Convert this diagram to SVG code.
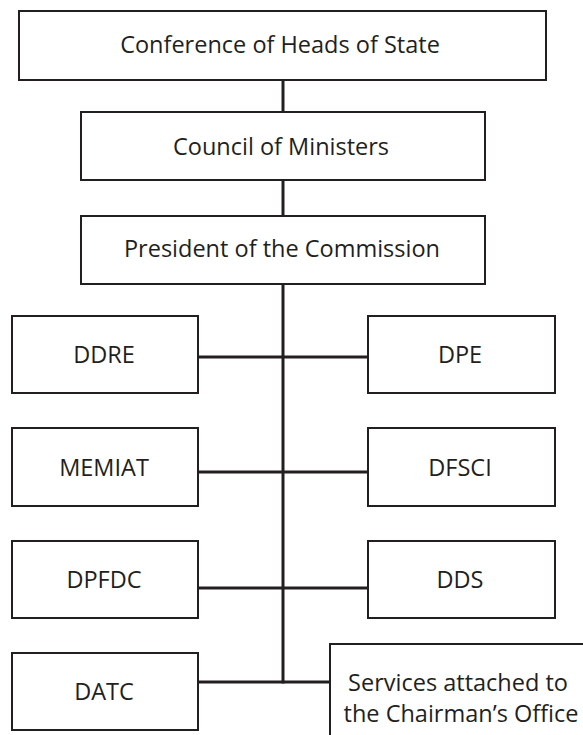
<svg xmlns="http://www.w3.org/2000/svg" width="583" height="735" viewBox="0 0 583 735">
<style>
.box{fill:#fff;stroke:#231f20;stroke-width:2}
.ln{stroke:#231f20;stroke-width:3;fill:none}
text{font-family:"Open Sans","Noto Sans",sans-serif;font-size:23.5px;fill:#231f20;text-anchor:middle}
</style>
<rect width="583" height="735" fill="#fff"/>
<g id="connectors">
<line class="ln" x1="283" y1="80" x2="283" y2="112"/>
<line class="ln" x1="283" y1="181" x2="283" y2="216"/>
<line class="ln" x1="283" y1="284" x2="283" y2="683.5"/>
<line class="ln" x1="198" y1="357" x2="368" y2="357"/>
<line class="ln" x1="198" y1="472" x2="368" y2="472"/>
<line class="ln" x1="198" y1="588" x2="368" y2="588"/>
<line class="ln" x1="198" y1="682" x2="330" y2="682"/>
</g>
<g id="n-conference"><rect class="box" x="19" y="11" width="527" height="69"/><text x="280" y="53">Conference of Heads of State</text></g>
<g id="n-council"><rect class="box" x="81" y="112" width="404" height="68"/><text x="281" y="155">Council of Ministers</text></g>
<g id="n-president"><rect class="box" x="81" y="216" width="404" height="68"/><text x="282" y="257">President of the Commission</text></g>
<g id="n-ddre"><rect class="box" x="12" y="316" width="186" height="77"/><text x="104" y="363">DDRE</text></g>
<g id="n-dpe"><rect class="box" x="368" y="316" width="187" height="77"/><text x="460" y="363">DPE</text></g>
<g id="n-memiat"><rect class="box" x="12" y="428" width="186" height="78"/><text x="104" y="476">MEMIAT</text></g>
<g id="n-dfsci"><rect class="box" x="368" y="428" width="187" height="78"/><text x="460" y="476">DFSCI</text></g>
<g id="n-dpfdc"><rect class="box" x="12" y="541" width="186" height="77"/><text x="104" y="588">DPFDC</text></g>
<g id="n-dds"><rect class="box" x="368" y="541" width="187" height="77"/><text x="460" y="588">DDS</text></g>
<g id="n-datc"><rect class="box" x="12" y="653" width="186" height="77"/><text x="104" y="700">DATC</text></g>
<g id="n-services"><rect class="box" x="330" y="644" width="300" height="100"/><text x="458" y="691">Services attached to</text><text x="461" y="722">the Chairman’s Office</text></g>
</svg>
